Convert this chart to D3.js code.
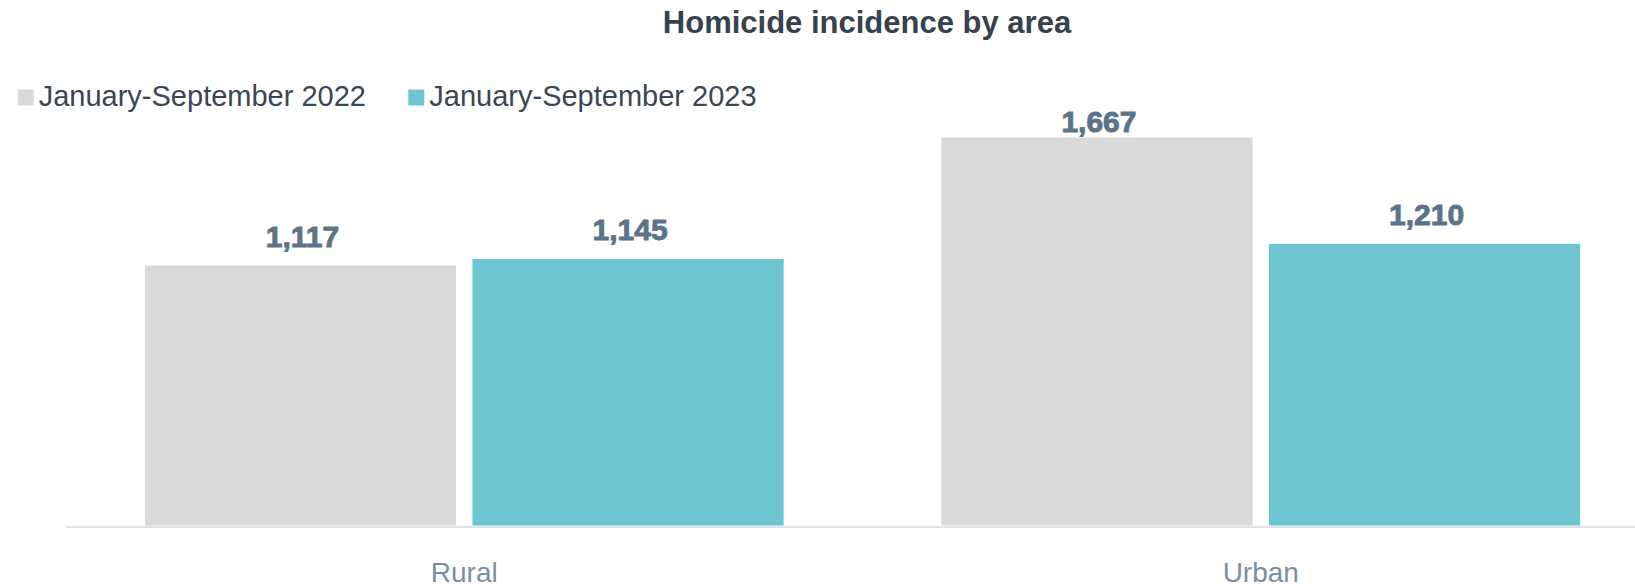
<!DOCTYPE html>
<html>
<head>
<meta charset="utf-8">
<script src="https://cdn.jsdelivr.net/npm/d3@7"></script>
<style>
  html, body { margin: 0; padding: 0; background: #ffffff; }
  svg { display: block; font-family: "Liberation Sans", Arial, sans-serif; }
</style>
</head>
<body>
<svg id="chart" width="1635" height="587"></svg>
<script>
// Homicide counts by area, January–September
const categories = ["Rural", "Urban"];
const seriesNames = ["January-September 2022", "January-September 2023"];
const values2022 = [1117, 1667];
const values2023 = [1145, 1210];
const seriesColors = ["#d9d9d9", "#6cc5d0"];
const titleText = "Homicide incidence by area";

const W = 1635, H = 587;
const svg = d3.select("#chart");

const rows = categories.map((c, i) => ({
  category: c,
  values: [
    { series: seriesNames[0], value: values2022[i] },
    { series: seriesNames[1], value: values2023[i] }
  ]
}));

// Scales
const x0 = d3.scaleBand()
  .domain(categories)
  .range([66, 1659])
  .paddingInner(0.198)
  .paddingOuter(0.099);

const x1 = d3.scaleBand()
  .domain(seriesNames)
  .range([0, x0.bandwidth()])
  .paddingInner(0.05);

const y = d3.scaleLinear()
  .domain([0, 2000])
  .range([525.5, 60]);

const color = d3.scaleOrdinal().domain(seriesNames).range(seriesColors);

// Title
svg.append("text")
  .attr("x", 867)
  .attr("y", 33)
  .attr("text-anchor", "middle")
  .attr("font-size", 31)
  .attr("font-weight", "bold")
  .attr("fill", "#36434f")
  .text(titleText);

// Legend
const legendX = [17.7, 408.3];
const legend = svg.append("g").selectAll("g")
  .data(seriesNames)
  .join("g")
  .attr("transform", (d, i) => `translate(${legendX[i]},89.5)`);
legend.append("rect")
  .attr("width", 16).attr("height", 16)
  .attr("fill", d => color(d));
legend.append("text")
  .attr("x", 21)
  .attr("y", 16.5)
  .attr("font-size", 29)
  .attr("fill", "#3a4753")
  .text(d => d);

// Bars
const groups = svg.append("g").selectAll("g")
  .data(rows)
  .join("g")
  .attr("transform", d => `translate(${x0(d.category)},0)`);

groups.selectAll("rect")
  .data(d => d.values)
  .join("rect")
  .attr("x", d => x1(d.series))
  .attr("y", d => y(d.value))
  .attr("width", x1.bandwidth())
  .attr("height", d => y(0) - y(d.value))
  .attr("fill", d => color(d.series));

// Value labels, kept inside the plotting area
const labelMinBaseline = 132;
groups.selectAll("text.value")
  .data(d => d.values)
  .join("text")
  .attr("class", "value")
  .attr("x", d => x1(d.series) + x1.bandwidth() / 2 + 2)
  .attr("y", d => Math.max(y(d.value) - 19, labelMinBaseline))
  .attr("text-anchor", "middle")
  .attr("font-size", 30)
  .attr("font-weight", "bold")
  .attr("fill", "#5b7489")
  .attr("stroke", "#5b7489")
  .attr("stroke-width", 0.9)
  .text(d => d3.format(",")(d.value));

// Category axis
const xAxis = svg.append("g")
  .attr("transform", `translate(0,${y(0) + 1})`)
  .call(d3.axisBottom(x0).tickSize(0).tickPadding(0));
xAxis.select(".domain")
  .attr("stroke", "#dde3ea")
  .attr("stroke-width", 2);
xAxis.selectAll(".tick text")
  .attr("y", 55)
  .attr("dy", 0)
  .attr("font-family", "Liberation Sans, Arial, sans-serif")
  .attr("font-size", 28)
  .attr("fill", "#7890a5");
</script>
</body>
</html>
